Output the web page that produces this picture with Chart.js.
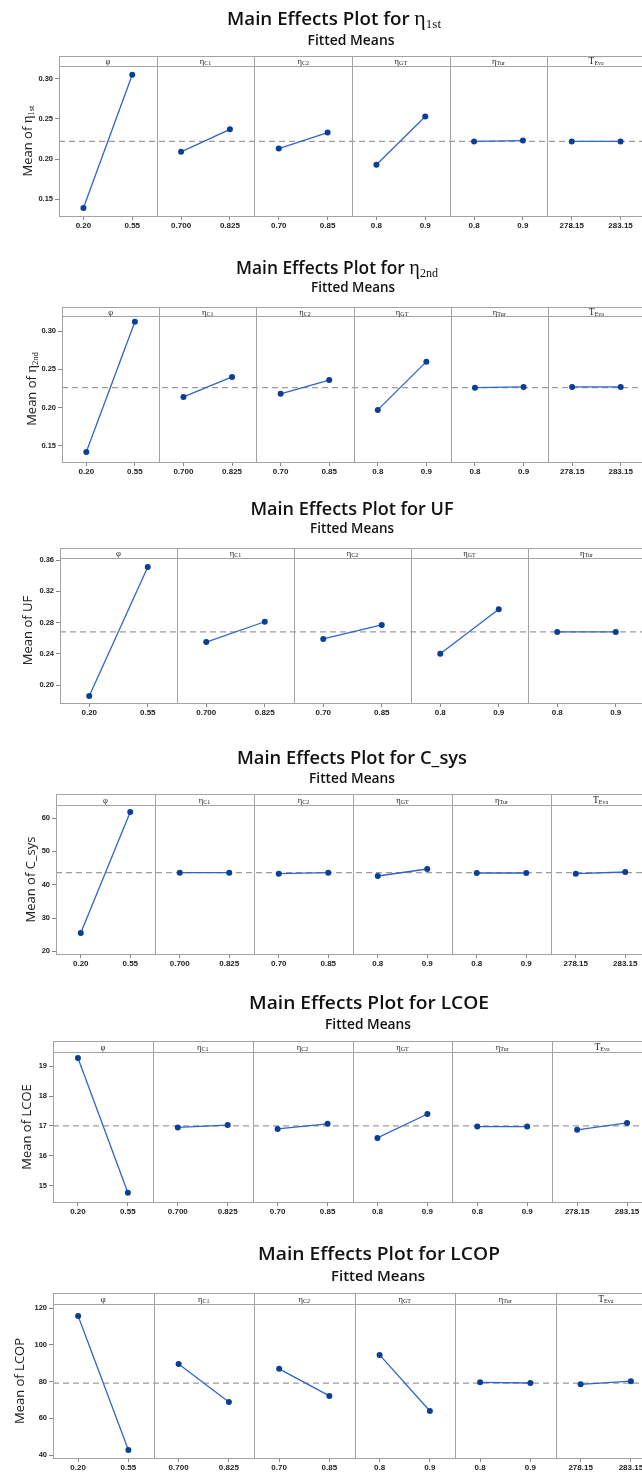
<!DOCTYPE html>
<html>
<head>
<meta charset="utf-8">
<script src="https://cdn.jsdelivr.net/npm/chart.js@4.4.1/dist/chart.umd.min.js"></script>
<style>
html, body { margin:0; padding:0; background:#fff; overflow:hidden; }
#page { position:relative; width:642px; height:1473px; overflow:hidden; background:#fff; }
#page canvas { position:absolute; left:0; }
</style>
</head>
<body>
<div id="page"></div>
<script>
// factor strip labels: symbol + subscript
var factorMain = ['φ', 'η', 'η', 'η', 'η', 'T'];
var factorSub = ['', 'C1', 'C2', 'GT', 'Tur', 'Eva'];
// level labels on the x axis, per factor
var levelLabels = [['0.20', '0.55'], ['0.700', '0.825'], ['0.70', '0.85'], ['0.8', '0.9'], ['0.8', '0.9'], ['278.15', '283.15']];

// fitted means [low, high] per factor
var eta1st = [[0.139, 0.305], [0.209, 0.237], [0.213, 0.233], [0.193, 0.253], [0.222, 0.223], [0.222, 0.222]];
var eta2nd = [[0.142, 0.312], [0.214, 0.240], [0.218, 0.236], [0.197, 0.260], [0.226, 0.227], [0.227, 0.227]];
var uf = [[0.186, 0.351], [0.255, 0.281], [0.259, 0.277], [0.240, 0.297], [0.268, 0.268]];
var csys = [[25.5, 61.8], [43.6, 43.6], [43.3, 43.6], [42.6, 44.7], [43.5, 43.5], [43.3, 43.8]];
var lcoe = [[19.27, 14.77], [16.95, 17.03], [16.90, 17.07], [16.60, 17.40], [16.98, 16.98], [16.87, 17.10]];
var lcop = [[115.7, 42.7], [89.6, 68.9], [86.9, 72.2], [94.5, 64.0], [79.6, 79.2], [78.5, 80.2]];

// grand means (dashed line)
var grandMeans = [0.222, 0.226, 0.268, 43.6, 17.0, 79.1];

// y tick labels
var ticksEta1st = [0.15, 0.20, 0.25, 0.30];
var ticksEta2nd = [0.15, 0.20, 0.25, 0.30];
var ticksUF = [0.20, 0.24, 0.28, 0.32, 0.36];
var ticksCsys = [20, 30, 40, 50, 60];
var ticksLCOE = [15, 16, 17, 18, 19];
var ticksLCOP = [40, 60, 80, 100, 120];

// response names: symbol + subscript
var respMain = ['η', 'η', 'UF', 'C_sys', 'LCOE', 'LCOP'];
var respSub = ['1st', '2nd', '', '', '', ''];

var series = [eta1st, eta2nd, uf, csys, lcoe, lcop];
var yTicks = [ticksEta1st, ticksEta2nd, ticksUF, ticksCsys, ticksLCOE, ticksLCOP];

// layout of each panel (pixels, relative to canvas top)
var W = 662;
var panels = [
  {top: 0,    h: 240, L: 59, R: 645, frameTop: 56, areaTop: 66, areaBottom: 216, titleY: 18, subY: 40, titleCx: 334, titleW: 214, subCx: 351, subW: 87, yTitleX: 27, ymin: 0.129, ymax: 0.316, dec: 2},
  {top: 240,  h: 245, L: 62, R: 645, frameTop: 67, areaTop: 76, areaBottom: 222, titleY: 27, subY: 47, titleCx: 337, titleW: 202, subCx: 353, subW: 84, yTitleX: 31, ymin: 0.129, ymax: 0.3196, dec: 2},
  {top: 485,  h: 245, L: 60, R: 645, frameTop: 63, areaTop: 73, areaBottom: 218, titleY: 23, subY: 43, titleCx: 352, titleW: 203, subCx: 352, subW: 84, yTitleX: 27, ymin: 0.177, ymax: 0.3626, dec: 2},
  {top: 730,  h: 250, L: 56, R: 650, frameTop: 64, areaTop: 75, areaBottom: 224, titleY: 27, subY: 48, titleCx: 352, titleW: 230, subCx: 352, subW: 86, yTitleX: 30, ymin: 19.2, ymax: 63.9, dec: 0},
  {top: 980,  h: 250, L: 53, R: 652, frameTop: 61, areaTop: 72, areaBottom: 222, titleY: 22, subY: 44, titleCx: 369, titleW: 240, subCx: 368, subW: 86, yTitleX: 26, ymin: 14.46, ymax: 19.47, dec: 0},
  {top: 1230, h: 243, L: 53, R: 656, frameTop: 63, areaTop: 74, areaBottom: 228, titleY: 23, subY: 46, titleCx: 379, titleW: 242, subCx: 378, subW: 94, yTitleX: 19, ymin: 38.4, ymax: 122.2, dec: 0}
];

var SANS = "'Open Sans', 'Noto Sans', sans-serif";
var SERIF = "'Liberation Serif', 'DejaVu Serif', serif";
var TICKFONT = "'Liberation Sans', Arial, sans-serif";
var FRAME = '#a3a3a3';

function runsWidth(ctx, runs) {
  var w = 0;
  runs.forEach(function(r) { ctx.font = r[1]; w += ctx.measureText(r[0]).width; });
  return w;
}

// draw text runs centred at (cx, y); optional target width squeezes horizontally
function drawRuns(ctx, runs, cx, y, target) {
  var w = runsWidth(ctx, runs);
  var s = target ? target / w : 1;
  ctx.save();
  ctx.translate(cx, y);
  ctx.scale(s, 1);
  var x = -w / 2;
  ctx.textAlign = 'left';
  ctx.textBaseline = 'alphabetic';
  runs.forEach(function(r) {
    ctx.font = r[1];
    ctx.fillText(r[0], x, r[2] || 0);
    x += ctx.measureText(r[0]).width;
  });
  ctx.restore();
}

function nameRuns(main, sub, sansFont, serifFont, subFont, dy) {
  if (sub) return [[main, serifFont], [sub, subFont, dy]];
  return [[main, sansFont]];
}

function framePlugin(p, idx, n) {
  return {
    id: 'frame' + idx,
    afterDraw: function(chart) {
      var ctx = chart.ctx, a = chart.chartArea, xs = chart.scales.x;
      ctx.save();
      ctx.strokeStyle = FRAME;
      ctx.lineWidth = 1;
      ctx.strokeRect(Math.round(a.left) + 0.5, p.frameTop + 0.5, a.right - a.left, a.bottom - p.frameTop);
      ctx.beginPath();
      ctx.moveTo(a.left, Math.round(a.top) + 0.5);
      ctx.lineTo(a.right, Math.round(a.top) + 0.5);
      for (var k = 1; k < n; k++) {
        var px = Math.round(xs.getPixelForValue(2 * k)) + 0.5;
        ctx.moveTo(px, p.frameTop);
        ctx.lineTo(px, a.bottom);
      }
      ctx.stroke();

      // strip labels
      ctx.fillStyle = '#222';
      var sy = (p.frameTop + a.top) / 2 + 3;
      for (k = 0; k < n; k++) {
        var cx = xs.getPixelForValue(2 * k + 1);
        var runs;
        if (factorMain[k] === 'T') runs = [['T', '9.5px ' + SERIF], [factorSub[k], '6px ' + SERIF, 1]];
        else if (factorSub[k]) runs = [[factorMain[k], '8.5px ' + SERIF], [factorSub[k], '6px ' + SERIF, 1]];
        else runs = [[factorMain[k], '8.5px ' + SERIF]];
        drawRuns(ctx, runs, cx, sy);
      }

      // titles
      ctx.fillStyle = '#111';
      var tf = '600 18px ' + SANS;
      var title = [['Main Effects Plot for ', tf]].concat(
        nameRuns(respMain[idx], respSub[idx], tf, '21px ' + SERIF, '12.5px ' + SERIF, 3));
      drawRuns(ctx, title, p.titleCx, p.titleY + 6.5, p.titleW);
      drawRuns(ctx, [['Fitted Means', '600 14px ' + SANS]], p.subCx, p.subY + 5, p.subW);

      // y axis title
      ctx.save();
      ctx.translate(p.yTitleX, (a.top + a.bottom) / 2);
      ctx.rotate(-Math.PI / 2);
      var yf = '13px ' + SANS;
      var yt = [['Mean of ', yf]].concat(
        nameRuns(respMain[idx], respSub[idx], yf, '15px ' + SERIF, '8.5px ' + SERIF, 2));
      ctx.fillStyle = '#222';
      drawRuns(ctx, yt, 0, 4.5);
      ctx.restore();
      ctx.restore();
    }
  };
}

function makePanel(idx) {
  var p = panels[idx];
  var vals = series[idx];
  var n = vals.length;
  var mean = grandMeans[idx];
  var yt = yTicks[idx];

  var canvas = document.createElement('canvas');
  canvas.width = W;
  canvas.height = p.h;
  canvas.style.top = p.top + 'px';
  canvas.style.width = W + 'px';
  canvas.style.height = p.h + 'px';
  document.getElementById('page').appendChild(canvas);

  var datasets = [{
    data: [{x: 0, y: mean}, {x: 2 * n, y: mean}],
    borderColor: '#9c9c9c',
    borderDash: [6, 4],
    borderWidth: 1.2,
    pointRadius: 0,
    order: 10
  }];
  for (var k = 0; k < n; k++) {
    datasets.push({
      data: [{x: 2 * k + 0.5, y: vals[k][0]}, {x: 2 * k + 1.5, y: vals[k][1]}],
      borderColor: '#3064c8',
      borderWidth: 1.3,
      pointRadius: 3,
      pointBackgroundColor: '#0a3f96',
      pointBorderColor: '#0a3f96',
      pointBorderWidth: 0,
      order: 1
    });
  }

  new Chart(canvas, {
    type: 'line',
    data: {datasets: datasets},
    options: {
      responsive: false,
      animation: false,
      devicePixelRatio: 1,
      layout: {padding: {top: p.areaTop, right: W - p.R, left: 0, bottom: 0}},
      plugins: {legend: {display: false}, tooltip: {enabled: false}, title: {display: false}},
      scales: {
        x: {
          type: 'linear',
          min: 0,
          max: 2 * n,
          afterBuildTicks: function(s) {
            var t = [];
            for (var j = 0; j < n; j++) { t.push({value: 2 * j + 0.5}); t.push({value: 2 * j + 1.5}); }
            s.ticks = t;
          },
          afterFit: function(s) { s.height = p.h - p.areaBottom; },
          ticks: {
            autoSkip: false,
            maxRotation: 0,
            padding: 1,
            color: '#222',
            font: {family: TICKFONT, size: 8, weight: 'bold'},
            callback: function(v) {
              var f = Math.floor(v / 2);
              return levelLabels[f][v - 2 * f > 1 ? 1 : 0];
            }
          },
          grid: {drawOnChartArea: false, drawTicks: true, tickLength: 4, color: '#888'},
          border: {display: false}
        },
        y: {
          min: p.ymin,
          max: p.ymax,
          afterBuildTicks: function(s) { s.ticks = yt.map(function(v) { return {value: v}; }); },
          afterFit: function(s) { s.width = p.L; },
          ticks: {
            padding: 2,
            color: '#222',
            font: {family: TICKFONT, size: 7.5, weight: 'bold'},
            callback: function(v) { return Number(v).toFixed(p.dec); }
          },
          grid: {drawOnChartArea: false, drawTicks: true, tickLength: 4, color: '#888'},
          border: {display: false}
        }
      }
    },
    plugins: [framePlugin(p, idx, n)]
  });
}

for (var i = 0; i < panels.length; i++) makePanel(i);
</script>
</body>
</html>
